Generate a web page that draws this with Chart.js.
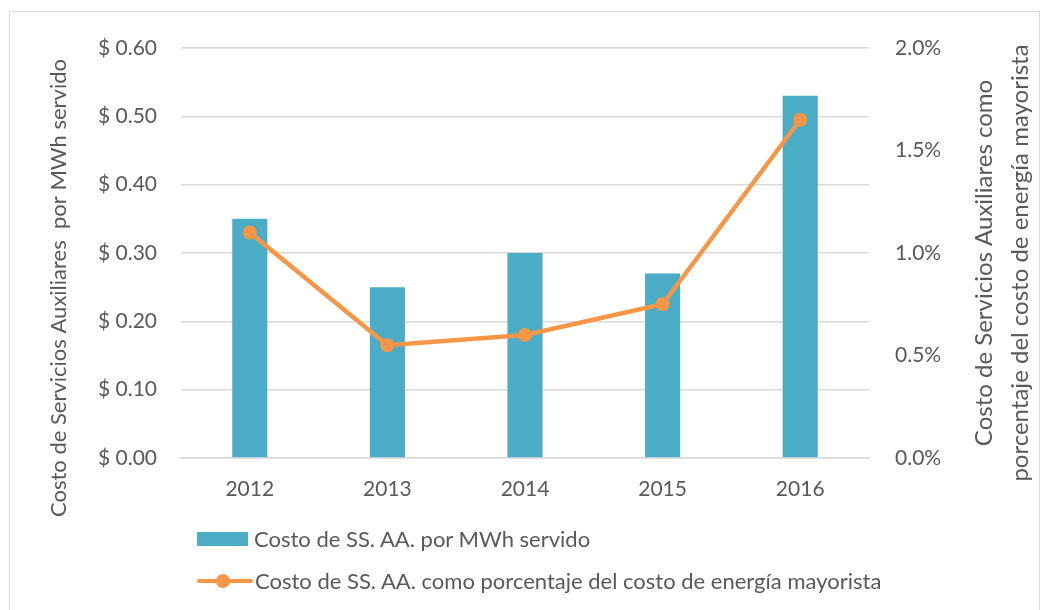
<!DOCTYPE html>
<html>
<head>
<meta charset="utf-8">
<script src="https://cdn.jsdelivr.net/npm/chart.js@4/dist/chart.umd.min.js"></script>
<style>
  html, body { margin: 0; padding: 0; background: #fff; }
  #wrap { position: relative; width: 1046px; height: 610px; overflow: hidden; font-family: Lato, sans-serif; color: #595959; }
  #frame { position: absolute; left: 9px; top: 11px; width: 1031px; height: 620px; border: 1px solid #d9d9d9; box-sizing: border-box; }
  canvas { position: absolute; left: 0; top: 0; }
  .leg { position: absolute; left: 197px; font-size: 22px; white-space: nowrap; display: flex; align-items: center; }
  .sw-bar { width: 51px; height: 14px; background: #4BACC6; margin-right: 6px; }
  .sw-line { position: relative; width: 56px; height: 14px; margin-right: 2px; }
  .sw-line::before { content: ""; position: absolute; left: 0; right: 0; top: 5px; height: 4px; background: #F79646; border-radius: 2px; }
  .sw-line::after { content: ""; position: absolute; left: 19px; top: 0; width: 14px; height: 14px; border-radius: 50%; background: #F79646; }
</style>
</head>
<body>
<div id="wrap">
  <div id="frame"></div>
  <canvas id="chart" width="1046" height="610"></canvas>
  <div class="leg" style="top:525px;"><div class="sw-bar"></div><span id="leg0"></span></div>
  <div class="leg" style="top:567px;"><div class="sw-line"></div><span id="leg1"></span></div>
</div>
<script>
const years = ['2012', '2013', '2014', '2015', '2016'];
const costPerMWh = [0.35, 0.25, 0.30, 0.27, 0.53];
const costPercent = [1.10, 0.55, 0.60, 0.75, 1.65];
const barLabel = 'Costo de SS. AA. por MWh servido';
const lineLabel = 'Costo de SS. AA. como porcentaje del costo de energía mayorista';
const leftTitle = 'Costo de Servicios Auxiliares  por MWh servido';
const rightTitle = ['Costo de Servicios Auxiliares como', 'porcentaje del costo de energía mayorista'];

const textColor = '#595959';
const fontFamily = 'Lato, sans-serif';

document.getElementById('leg0').textContent = barLabel;
document.getElementById('leg1').textContent = lineLabel;

// axis titles drawn by hand so both read bottom-to-top like the original
const axisTitles = {
    id: 'axisTitles',
    afterDraw(chart) {
        const c = chart.ctx;
        c.save();
        c.fillStyle = textColor;
        c.font = '22px ' + fontFamily;
        c.textAlign = 'center';
        c.textBaseline = 'middle';
        c.translate(59, 288);
        c.rotate(-Math.PI / 2);
        c.fillText(leftTitle, 0, 0);
        c.restore();
        [984, 1020].forEach((x, i) => {
            c.save();
            c.fillStyle = textColor;
            c.font = '24px ' + fontFamily;
            c.textAlign = 'center';
            c.textBaseline = 'middle';
            c.translate(x, 263);
            c.rotate(-Math.PI / 2);
            c.fillText(rightTitle[i], 0, 0);
            c.restore();
        });
    }
};

const ctx = document.getElementById('chart').getContext('2d');
new Chart(ctx, {
    data: {
        labels: years,
        datasets: [
            {
                type: 'line',
                label: lineLabel,
                data: costPercent,
                yAxisID: 'y1',
                borderColor: '#F79646',
                backgroundColor: '#F79646',
                borderWidth: 4.5,
                pointRadius: 7,
                pointBorderWidth: 0,
                tension: 0,
                order: 0
            },
            {
                type: 'bar',
                label: barLabel,
                data: costPerMWh,
                yAxisID: 'y',
                backgroundColor: '#4BACC6',
                barPercentage: 0.255,
                categoryPercentage: 1,
                order: 1
            }
        ]
    },
    options: {
        responsive: false,
        animation: false,
        layout: { padding: { top: 48, left: 0, right: 0, bottom: 0 } },
        plugins: {
            legend: { display: false },
            tooltip: { enabled: false }
        },
        scales: {
            x: {
                grid: { display: false, drawTicks: false },
                border: { display: true, color: '#d9d9d9', width: 1.5 },
                ticks: { color: textColor, font: { family: fontFamily, size: 21 }, padding: 19 },
                afterFit(scale) { scale.height = 152; }
            },
            y: {
                position: 'left',
                min: 0,
                max: 0.6,
                ticks: {
                    stepSize: 0.1,
                    color: textColor,
                    font: { family: fontFamily, size: 21 },
                    padding: 24,
                    callback: v => '$ ' + v.toFixed(2)
                },
                grid: { color: '#d9d9d9', lineWidth: 1.5, drawTicks: false },
                border: { display: false },
                afterFit(scale) { scale.width = 181; }
            },
            y1: {
                position: 'right',
                min: 0,
                max: 2,
                ticks: {
                    stepSize: 0.5,
                    color: textColor,
                    font: { family: fontFamily, size: 21 },
                    padding: 26,
                    callback: v => v.toFixed(1) + '%'
                },
                grid: { display: false, drawTicks: false },
                border: { display: false },
                afterFit(scale) { scale.width = 177; }
            }
        }
    },
    plugins: [axisTitles]
});
</script>
</body>
</html>
